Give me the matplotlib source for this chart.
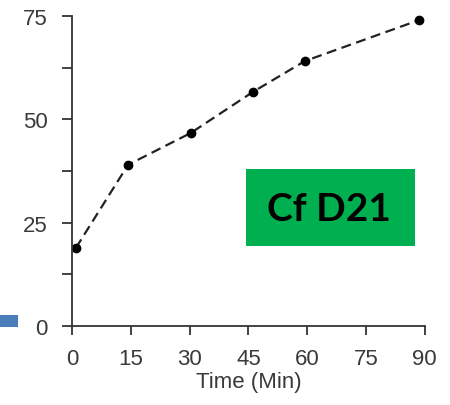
import matplotlib.pyplot as plt
from matplotlib.patches import Rectangle

# values
time_min = [1.0, 14.3, 30.3, 46.1, 59.4, 88.5]
release = [18.9, 39.0, 46.7, 56.6, 64.1, 74.0]
x_ticks = [0, 15, 30, 45, 60, 75, 90]
y_ticks = [0, 12.5, 25, 37.5, 50, 62.5, 75]
y_labels = ["0", "", "25", "", "50", "", "75"]
label = "Cf D21"

plt.rcParams["font.family"] = ["Liberation Sans", "DejaVu Sans"]

fig = plt.figure(figsize=(4.5, 4.06), dpi=100)
ax = fig.add_axes([0.16, 0.1946, 0.784, 0.7635])

ax.plot(time_min, release, color="#222222", ls=(0, (4.5, 2.5)), lw=1.6,
        marker="o", ms=6, mfc="black", mec="black", clip_on=False)

ax.set_xlim(0, 90)
ax.set_ylim(0, 75)
ax.set_xticks(x_ticks)
ax.set_yticks(y_ticks)
ax.set_yticklabels(y_labels)

for s in ["top", "right"]:
    ax.spines[s].set_visible(False)
for s in ["left", "bottom"]:
    ax.spines[s].set_color("#333333")
    ax.spines[s].set_linewidth(1.3)

ax.tick_params(axis="y", direction="out", length=7.5, width=1.3,
               color="#333333", pad=10, labelsize=16, labelcolor="#3a3a3a")
ax.tick_params(axis="x", direction="out", length=6.5, width=1.3,
               color="#333333", pad=9, labelsize=16, labelcolor="#3a3a3a")
ax.set_xlabel("Time (Min)", fontsize=16, color="#3a3a3a", labelpad=2)

# green label box
fig.patches.append(Rectangle((246 / 450, 1 - 247 / 406), 169 / 450, 77 / 406,
                             transform=fig.transFigure, facecolor="#00b050",
                             edgecolor="none"))
fig.text(329 / 450, 1 - 210 / 406, label, ha="center", va="center",
         fontsize=28, fontweight="bold", color="black",
         family=["Lato", "DejaVu Sans"])

# small blue bar on the left edge
fig.patches.append(Rectangle((0, 1 - 328 / 406), 18 / 450, 12 / 406,
                             transform=fig.transFigure, facecolor="#4a7ebb",
                             edgecolor="none"))

fig.savefig("out.png", dpi=100)
